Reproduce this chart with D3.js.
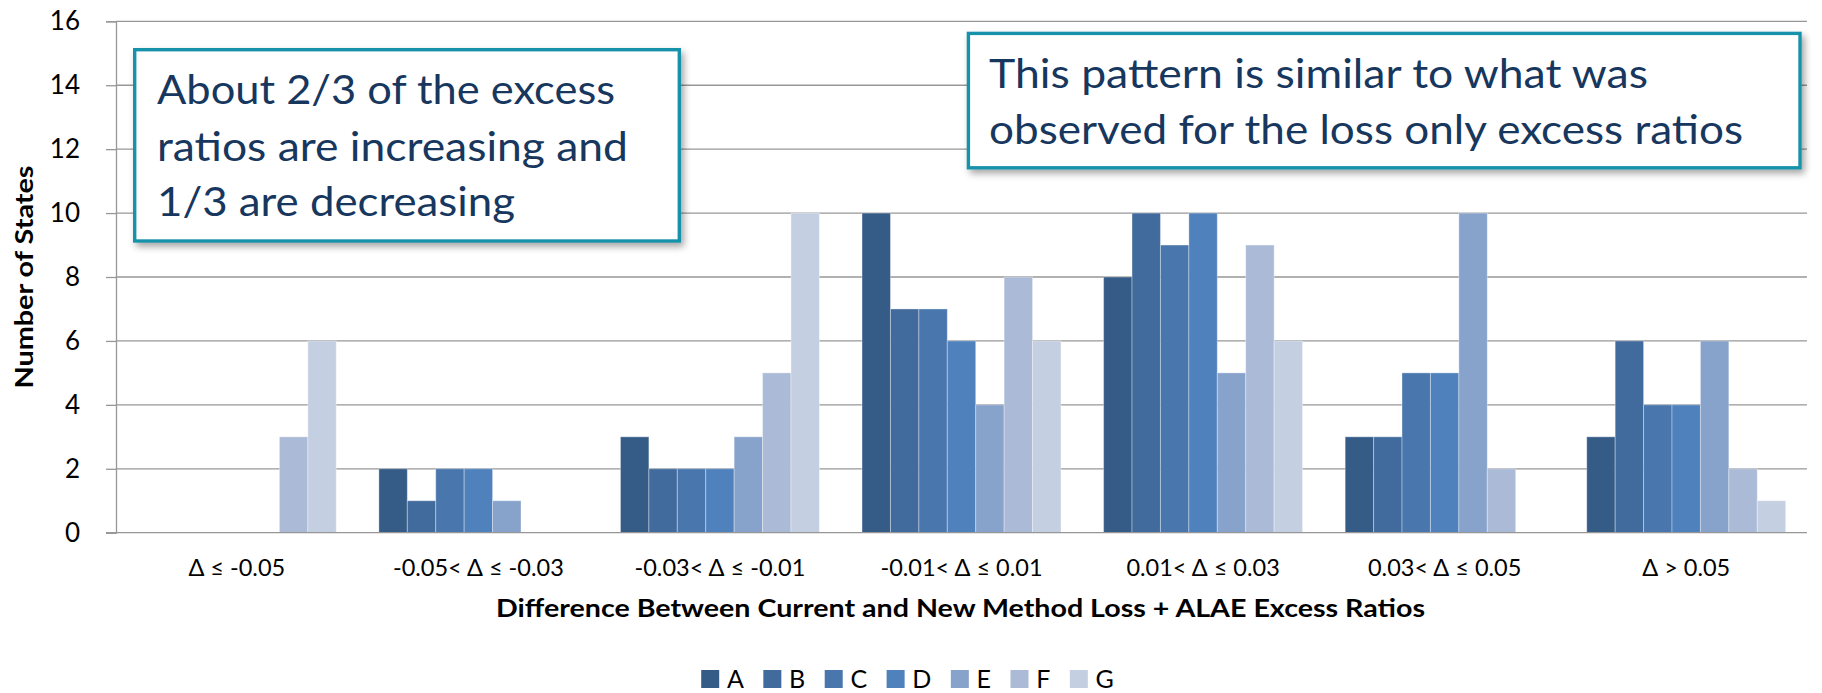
<!DOCTYPE html>
<html>
<head>
<meta charset="utf-8">
<script src="https://cdn.jsdelivr.net/npm/d3@7"></script>
<style>
  html, body { margin: 0; padding: 0; background: #ffffff; }
  svg { display: block; font-family: Lato, "Open Sans", sans-serif; }
</style>
</head>
<body>
<svg id="chart" width="1822" height="693"></svg>
<script>
// Buckets of the change in Loss + ALAE excess ratios
const categories = ["Δ ≤ -0.05", "-0.05< Δ ≤ -0.03", "-0.03< Δ ≤ -0.01", "-0.01< Δ ≤ 0.01",
                    "0.01< Δ ≤ 0.03", "0.03< Δ ≤ 0.05", "Δ > 0.05"];
const seriesNames = ["A", "B", "C", "D", "E", "F", "G"];

// Number of states per bucket, one array per series
const seriesA = [0, 2, 3, 10, 8, 3, 3];
const seriesB = [0, 1, 2, 7, 10, 3, 6];
const seriesC = [0, 2, 2, 7, 9, 5, 4];
const seriesD = [0, 2, 2, 6, 10, 5, 4];
const seriesE = [0, 1, 3, 4, 5, 10, 6];
const seriesF = [3, 0, 5, 8, 9, 2, 2];
const seriesG = [6, 0, 10, 6, 6, 0, 1];

const yTicks = [0, 2, 4, 6, 8, 10, 12, 14, 16];

const seriesColors = ["#355b87", "#416b9c", "#4976ad", "#4f81bd", "#87a2cb", "#abbad7", "#c5cfe2"];

const seriesValues = [seriesA, seriesB, seriesC, seriesD, seriesE, seriesF, seriesG];

const svg = d3.select("#chart");

const plot = { left: 116, right: 1807, top: 21.3, bottom: 532.7 };

const x0 = d3.scaleBand().domain(categories).range([plot.left, plot.right]).paddingInner(0).paddingOuter(0);
const x1 = d3.scaleBand().domain(seriesNames).range([0, x0.bandwidth()]).paddingInner(0).paddingOuter(0.75);
const y = d3.scaleLinear().domain([0, 16]).range([plot.bottom, plot.top]);

// Shadow used by the call-out boxes
const defs = svg.append("defs");
const shadow = defs.append("filter").attr("id", "boxShadow")
  .attr("x", "-10%").attr("y", "-10%").attr("width", "125%").attr("height", "130%");
shadow.append("feDropShadow").attr("dx", 3).attr("dy", 4).attr("stdDeviation", 3.5)
  .attr("flood-color", "#000").attr("flood-opacity", 0.35);

// Horizontal gridlines
svg.append("g").selectAll("line").data(yTicks.filter(d => d > 0)).join("line")
  .attr("x1", plot.left).attr("x2", plot.right)
  .attr("y1", d => y(d)).attr("y2", d => y(d))
  .attr("stroke", "#979797").attr("stroke-width", 1.3);

// Bars
const groups = svg.append("g").selectAll("g").data(categories).join("g")
  .attr("transform", c => `translate(${x0(c)},0)`);
groups.selectAll("rect")
  .data((c, ci) => seriesNames.map((s, si) => ({ s, si, v: seriesValues[si][ci] })))
  .join("rect")
  .filter(d => d.v > 0)
  .attr("x", d => x1(d.s))
  .attr("width", x1.bandwidth())
  .attr("y", d => y(d.v))
  .attr("height", d => y(0) - y(d.v))
  .attr("fill", d => seriesColors[d.si])
  .attr("stroke", "rgba(255,255,255,0.35)")
  .attr("stroke-width", 1);

// Y axis
const yAxis = svg.append("g").attr("transform", `translate(${plot.left},0)`)
  .call(d3.axisLeft(y).tickValues(yTicks).tickSize(10).tickPadding(26).tickFormat(d3.format("d")));
yAxis.select(".domain").attr("stroke", "#979797").attr("stroke-width", 1.3);
yAxis.selectAll(".tick line").attr("stroke", "#979797").attr("stroke-width", 1.3);
yAxis.selectAll(".tick text").attr("font-family", "Lato, sans-serif").attr("font-size", 26).attr("fill", "#000");

// X axis
const xAxis = svg.append("g").attr("transform", `translate(0,${plot.bottom})`)
  .call(d3.axisBottom(x0).tickSize(0).tickPadding(27));
xAxis.select(".domain").attr("d", `M${plot.left - 10},0H${plot.right}`).attr("stroke", "#979797").attr("stroke-width", 1.3);
xAxis.selectAll(".tick text").attr("font-family", "Lato, sans-serif").attr("font-size", 23.5).attr("fill", "#000");

// Axis titles
svg.append("text")
  .attr("transform", `translate(33,277) rotate(-90)`)
  .attr("text-anchor", "middle")
  .attr("font-weight", "bold").attr("font-size", 24)
  .attr("textLength", 223).attr("lengthAdjust", "spacingAndGlyphs")
  .text("Number of States");

svg.append("text")
  .attr("x", 960.5).attr("y", 617)
  .attr("text-anchor", "middle")
  .attr("font-weight", "bold").attr("font-size", 24)
  .attr("textLength", 929).attr("lengthAdjust", "spacingAndGlyphs")
  .text("Difference Between Current and New Method Loss + ALAE Excess Ratios");

// Legend along the bottom edge
const legend = svg.append("g");
let lx = 0;
seriesNames.forEach((name, i) => {
  const item = legend.append("g").attr("transform", `translate(${lx},0)`);
  item.append("rect").attr("x", 0).attr("y", 670).attr("width", 18).attr("height", 18).attr("fill", seriesColors[i]);
  const t = item.append("text").attr("x", 25.7).attr("y", 687.5).attr("font-size", 25).attr("fill", "#000").text(name);
  lx += 25.7 + t.node().getComputedTextLength() + 19.5;
});
const legendWidth = lx - 19.5;
legend.attr("transform", `translate(${907.5 - legendWidth / 2},0)`);

// Call-out boxes
function callout(box, lines) {
  const g = svg.append("g");
  g.append("rect")
    .attr("x", box.x).attr("y", box.y).attr("width", box.w).attr("height", box.h)
    .attr("fill", "#fff").attr("stroke", "#1892aa").attr("stroke-width", 3.4)
    .attr("filter", "url(#boxShadow)");
  g.selectAll("text").data(lines).join("text")
    .attr("x", d => d.x).attr("y", d => d.y)
    .attr("font-size", 40).attr("fill", "#17375e")
    .attr("textLength", d => d.len).attr("lengthAdjust", "spacingAndGlyphs")
    .text(d => d.text);
}

callout({ x: 134.7, y: 49.7, w: 544.6, h: 191.3 }, [
  { text: "About 2/3 of the excess", x: 157, y: 104, len: 458 },
  { text: "ratios are increasing and", x: 157, y: 160.5, len: 471 },
  { text: "1/3 are decreasing", x: 157, y: 216, len: 358 }
]);

callout({ x: 968.4, y: 33.4, w: 831.6, h: 134.4 }, [
  { text: "This pattern is similar to what was", x: 989, y: 87.5, len: 659 },
  { text: "observed for the loss only excess ratios", x: 989, y: 143.5, len: 754 }
]);
</script>
</body>
</html>
